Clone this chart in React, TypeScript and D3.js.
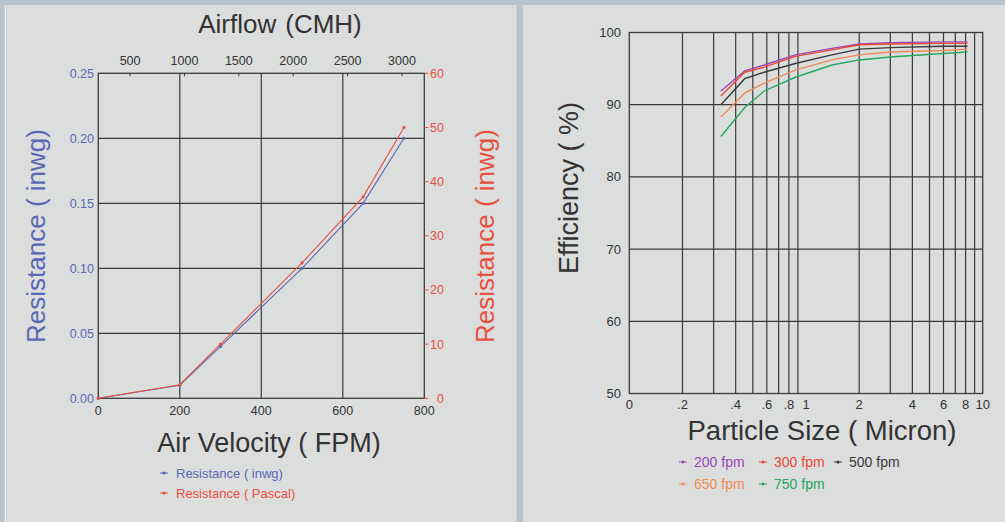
import React from "react";
import * as d3 from "d3";

// ---------- Left chart data ----------
const velocityFPM = [0, 200, 300, 500, 650, 750];
const resistanceInwg = [0, 0.01, 0.04, 0.1, 0.15, 0.2];
const resistancePascal = [0, 2.5, 10, 25, 37.2, 50];
const velocityTicks = [0, 200, 400, 600, 800];
const inwgTicks = [0, 0.05, 0.1, 0.15, 0.2, 0.25];
const pascalTicks = [0, 10, 20, 30, 40, 50, 60];
const cmhTicks = [500, 1000, 1500, 2000, 2500, 3000];
const cmhDomain = [208, 3205];

// ---------- Right chart data ----------
const particleSize = [0.33, 0.45, 0.58, 0.87, 1.4, 2, 3, 6, 8.2];
const eff200 = [91.9, 94.7, 95.5, 96.9, 97.8, 98.4, 98.6, 98.7, 98.7];
const eff300 = [91.2, 94.5, 95.2, 96.7, 97.6, 98.3, 98.4, 98.5, 98.5];
const eff500 = [90.0, 93.6, 94.5, 95.7, 96.9, 97.7, 97.9, 98.1, 98.1];
const eff650 = [88.3, 91.6, 93.0, 94.8, 96.2, 96.9, 97.3, 97.5, 97.7];
const eff750 = [85.6, 89.6, 91.9, 93.8, 95.5, 96.2, 96.6, 97.1, 97.3];
const seriesNames = ["200 fpm", "300 fpm", "500 fpm", "650 fpm", "750 fpm"];
const effTicks = [50, 60, 70, 80, 90, 100];
const sizeGrid = [0.2, 0.3, 0.4, 0.5, 0.6, 0.7, 0.8, 0.9, 2, 3, 4, 5, 6, 7, 8, 9];
const sizeTickValues = [0.1, 0.2, 0.4, 0.6, 0.8, 1, 2, 4, 6, 8, 10];
const sizeTickLabels = ["0", ".2", ".4", ".6", ".8", "1", "2", "4", "6", "8", "10"];

const FONT = "'Liberation Sans', Arial, Helvetica, sans-serif";
const BLUE = "#5a67b5";
const RED = "#e8503f";
const GRID = "#3a3a3a";
const seriesColors = ["#9a45b8", "#e84a35", "#3a3a3a", "#f08a55", "#25a862"];

export default function App() {
  // Left chart scales
  const lx = d3.scaleLinear().domain([0, 800]).range([98.3, 424.3]);
  const lxTop = d3.scaleLinear().domain(cmhDomain).range([98.3, 424.3]);
  const ly = d3.scaleLinear().domain([0, 0.25]).range([398.3, 73.3]);
  const lyP = d3.scaleLinear().domain([0, 60]).range([398.3, 73.3]);

  const blueLine = d3
    .line<number>()
    .x((_, i) => lx(velocityFPM[i]))
    .y((d) => ly(d))(resistanceInwg) as string;
  const redLine = d3
    .line<number>()
    .x((_, i) => lx(velocityFPM[i]))
    .y((d) => lyP(d))(resistancePascal) as string;

  // Right chart scales
  const rx = d3.scaleLog().domain([0.1, 10]).range([629.3, 982.7]);
  const ry = d3.scaleLinear().domain([50, 100]).range([393.5, 32.5]);
  const effSeries = [eff200, eff300, eff500, eff650, eff750];
  const effLine = d3
    .line<number>()
    .x((_, i) => rx(particleSize[i]))
    .y((d) => ry(d));

  const legendPos = [
    [683, 462],
    [763, 462],
    [838, 462],
    [683, 484],
    [763, 484],
  ];

  return (
    <div style={{ position: "fixed", left: 0, top: 0 }}>
      <svg width={1005} height={522} style={{ display: "block", fontFamily: FONT }}>
        <rect x={0} y={0} width={1005} height={522} fill="#b9c3cb" />
        <line x1={5.5} x2={5.5} y1={5} y2={522} stroke="#f4f6f7" strokeWidth={1.5} />
        <rect x={7} y={5} width={509.5} height={517} fill="#dcdddd" />
        <rect x={523} y={5} width={482} height={517} fill="#dcdddd" />

        {/* ---------- LEFT CHART ---------- */}
        <text x={280} y={33} textAnchor="middle" fontSize={26} fill="#333">
          Airflow<tspan dx={9}>(CMH)</tspan>
        </text>
        {/* grid */}
        {velocityTicks.slice(1, -1).map((v) => (
          <line key={"vg" + v} x1={lx(v)} x2={lx(v)} y1={ly(0.25)} y2={ly(0)} stroke={GRID} strokeWidth={1.2} />
        ))}
        {inwgTicks.slice(1, -1).map((v) => (
          <line key={"hg" + v} x1={lx(0)} x2={lx(800)} y1={ly(v)} y2={ly(v)} stroke={GRID} strokeWidth={1.2} />
        ))}
        <rect x={lx(0)} y={ly(0.25)} width={lx(800) - lx(0)} height={ly(0) - ly(0.25)} fill="none" stroke={GRID} strokeWidth={1.3} />
        {/* top CMH axis */}
        {cmhTicks.map((v) => (
          <g key={"ct" + v}>
            <line x1={lxTop(v)} x2={lxTop(v)} y1={ly(0.25)} y2={ly(0.25) + 3} stroke={GRID} strokeWidth={1} />
            <text x={lxTop(v)} y={65} textAnchor="middle" fontSize={12.5} fill="#333">
              {v}
            </text>
          </g>
        ))}
        {/* bottom axis labels */}
        {velocityTicks.map((v) => (
          <text key={"bt" + v} x={lx(v)} y={415} textAnchor="middle" fontSize={12.5} fill="#333">
            {v}
          </text>
        ))}
        {/* left ticks */}
        {inwgTicks.map((v) => (
          <text key={"lt" + v} x={94} y={ly(v) + 4.5} textAnchor="end" fontSize={12.5} fill={BLUE}>
            {v.toFixed(2)}
          </text>
        ))}
        {/* right ticks */}
        {pascalTicks.map((v) => (
          <g key={"rt" + v}>
            <line x1={lx(800)} x2={lx(800) + 4} y1={lyP(v)} y2={lyP(v)} stroke={RED} strokeWidth={1} />
            <text x={444} y={lyP(v) + 4.5} textAnchor="end" fontSize={12.5} fill={RED}>
              {v}
            </text>
          </g>
        ))}
        {/* lines */}
        <path d={blueLine} fill="none" stroke={BLUE} strokeWidth={1.1} />
        <path d={redLine} fill="none" stroke={RED} strokeWidth={1.1} />
        {resistanceInwg.map((d, i) => (
          <circle key={"bd" + i} cx={lx(velocityFPM[i])} cy={ly(d)} r={1.6} fill={BLUE} />
        ))}
        {resistancePascal.map((d, i) => (
          <circle key={"rd" + i} cx={lx(velocityFPM[i])} cy={lyP(d)} r={1.6} fill={RED} />
        ))}
        {/* axis titles */}
        <text x={269} y={452} textAnchor="middle" fontSize={27} fill="#333">
          Air Velocity ( FPM)
        </text>
        <text transform="translate(45,236) rotate(-90)" textAnchor="middle" fontSize={26} fill={BLUE}>
          Resistance ( inwg)
        </text>
        <text transform="translate(494,236) rotate(-90)" textAnchor="middle" fontSize={26} fill={RED}>
          Resistance ( inwg)
        </text>
        {/* legend */}
        <line x1={160} x2={168} y1={473} y2={473} stroke={BLUE} strokeWidth={1} />
        <circle cx={164} cy={473} r={1.5} fill={BLUE} />
        <text x={176} y={477.5} fontSize={13} fill={BLUE}>
          Resistance ( inwg)
        </text>
        <line x1={160} x2={168} y1={493} y2={493} stroke={RED} strokeWidth={1} />
        <circle cx={164} cy={493} r={1.5} fill={RED} />
        <text x={176} y={497.5} fontSize={13} fill={RED}>
          Resistance ( Pascal)
        </text>

        {/* ---------- RIGHT CHART ---------- */}
        {sizeGrid.map((v) => (
          <line key={"sg" + v} x1={rx(v)} x2={rx(v)} y1={ry(100)} y2={ry(50)} stroke={GRID} strokeWidth={1.2} />
        ))}
        {effTicks.slice(1, -1).map((v) => (
          <line key={"eg" + v} x1={rx(0.1)} x2={rx(10)} y1={ry(v)} y2={ry(v)} stroke={GRID} strokeWidth={1.2} />
        ))}
        <rect x={rx(0.1)} y={ry(100)} width={rx(10) - rx(0.1)} height={ry(50) - ry(100)} fill="none" stroke={GRID} strokeWidth={1.3} />
        {effTicks.map((v) => (
          <text key={"et" + v} x={621} y={ry(v) + 4.5} textAnchor="end" fontSize={13} fill="#333">
            {v}
          </text>
        ))}
        {sizeTickValues.map((v, i) => (
          <text key={"st" + v} x={rx(v)} y={409} textAnchor="middle" fontSize={13} fill="#333">
            {sizeTickLabels[i]}
          </text>
        ))}
        {effSeries.map((s, k) => (
          <path key={"es" + k} d={effLine(s) as string} fill="none" stroke={seriesColors[k]} strokeWidth={1.4} />
        ))}
        <text x={822} y={440} textAnchor="middle" fontSize={27.5} fill="#333">
          Particle Size ( Micron)
        </text>
        <text transform="translate(578,188) rotate(-90)" textAnchor="middle" fontSize={27} fill="#333">
          Efficiency ( %)
        </text>
        {seriesNames.map((n, k) => (
          <g key={"lg" + k}>
            <line x1={legendPos[k][0] - 4} x2={legendPos[k][0] + 4} y1={legendPos[k][1]} y2={legendPos[k][1]} stroke={seriesColors[k]} strokeWidth={1} />
            <circle cx={legendPos[k][0]} cy={legendPos[k][1]} r={1.5} fill={seriesColors[k]} />
            <text x={legendPos[k][0] + 11} y={legendPos[k][1] + 5} fontSize={14} fill={seriesColors[k]}>
              {n}
            </text>
          </g>
        ))}
      </svg>
    </div>
  );
}
